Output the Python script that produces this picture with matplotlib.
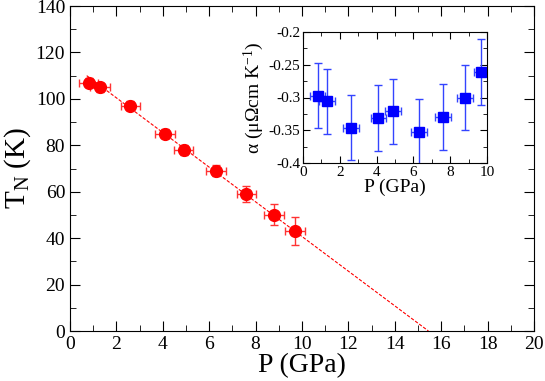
import numpy as np
import matplotlib.pyplot as plt
from matplotlib.ticker import MultipleLocator

plt.rcParams['font.family'] = ['Liberation Serif', 'DejaVu Serif']
plt.rcParams['mathtext.fontset'] = 'custom'
plt.rcParams['mathtext.rm'] = 'Liberation Serif'
plt.rcParams['mathtext.it'] = 'Liberation Serif:italic'

# pressure points (GPa) and errors
pressure = [0.8, 1.3, 2.6, 4.1, 4.9, 6.3, 7.6, 8.8, 9.7]
p_err = [0.42, 0.42, 0.42, 0.42, 0.42, 0.42, 0.42, 0.42, 0.42]
# Neel temperature (K)
t_neel = [107, 105, 97, 85, 78, 69, 59, 50, 43]
t_err = [2, 2, 2, 2, 2, 2.4, 3.6, 4.5, 6]
# linear fit line
fit_p = [0.72, 15.45]
fit_t = [110, 0]
# inset: alpha
alpha = [-0.297, -0.306, -0.346, -0.331, -0.321, -0.353, -0.330, -0.300, -0.261]
alpha_err = [0.05, 0.05, 0.05, 0.05, 0.05, 0.05, 0.05, 0.05, 0.05]

fig = plt.figure(figsize=(5.45, 3.81), dpi=100)
ax = fig.add_axes([70/545, 1-331/381, 464/545, 325/381])

ax.plot(fit_p, fit_t, '--', color='red', lw=0.8, dashes=(3, 1.5))
ax.errorbar(pressure, t_neel, xerr=p_err, yerr=t_err, fmt='o', color='red', ms=8.5,
            ecolor='#ff3333', elinewidth=1.0, capsize=3, capthick=1.0)
ax.set_xlim(0, 20)
ax.set_ylim(0, 140)
ax.xaxis.set_major_locator(MultipleLocator(2))
ax.xaxis.set_minor_locator(MultipleLocator(1))
ax.yaxis.set_major_locator(MultipleLocator(20))
ax.yaxis.set_minor_locator(MultipleLocator(10))
ax.tick_params(which='both', direction='in', top=True, right=True, labelsize=14)
ax.tick_params(which='major', length=7)
ax.tick_params(which='minor', length=4)
ax.set_xlabel('P (GPa)', fontsize=20, labelpad=0)
ax.set_ylabel('T$_\\mathrm{N}$ (K)', fontsize=21, labelpad=2)

# inset
ins = fig.add_axes([303/545, 1-163/381, 184/545, 131/381])
ins.errorbar(pressure, alpha, xerr=p_err, yerr=alpha_err, fmt='s', color='#0000ff', ms=7,
             ecolor='#3344ff', elinewidth=1.0, capsize=3, capthick=1.0)
ins.set_xlim(0, 10)
ins.set_ylim(-0.4, -0.2)
ins.xaxis.set_major_locator(MultipleLocator(2))
ins.xaxis.set_minor_locator(MultipleLocator(1))
ins.yaxis.set_major_locator(MultipleLocator(0.05))
ins.yaxis.set_minor_locator(MultipleLocator(0.025))
ins.set_yticks([-0.4, -0.35, -0.3, -0.25, -0.2])
ins.set_yticklabels(['-0.4', '-0.35', '-0.3', '-0.25', '-0.2'])
ins.set_xticks([0, 2, 4, 6, 8, 10])
ins.tick_params(which='both', direction='in', top=True, right=True, labelsize=11, pad=2)
ins.tick_params(which='major', length=5)
ins.tick_params(which='minor', length=3)
ins.set_xlabel('P (GPa)', fontsize=14, labelpad=0)
ins.set_ylabel('α (μΩcm K$^{-1}$)', fontsize=14, labelpad=2)

fig.savefig('out.png', dpi=100)
